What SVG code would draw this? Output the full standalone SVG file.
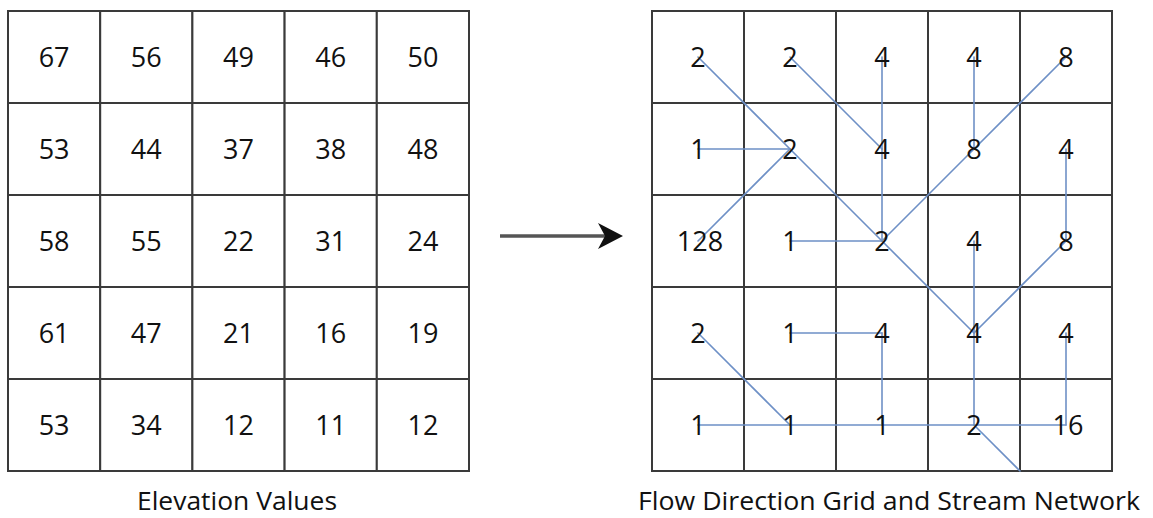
<svg xmlns="http://www.w3.org/2000/svg" width="1153" height="518" viewBox="0 0 1153 518">
<style>
.cell{fill:#fff;stroke:#3a3a3a;stroke-width:2}
.num{font-family:"Open Sans","Liberation Sans",sans-serif;font-size:27px;fill:#111;text-anchor:middle}
.lab{font-family:"Open Sans","Liberation Sans",sans-serif;font-size:26px;fill:#111}
.flow{stroke:#6e90c6;stroke-width:1.6;fill:none;stroke-linecap:round}
</style>
<rect width="1153" height="518" fill="#fff"/>
<g id="elevation-grid">
<g id="e00"><rect class="cell" x="8" y="11" width="92.2" height="92"/><text class="num" x="54.1" y="67">67</text></g>
<g id="e01"><rect class="cell" x="100.2" y="11" width="92.2" height="92"/><text class="num" x="146.3" y="67">56</text></g>
<g id="e02"><rect class="cell" x="192.4" y="11" width="92.2" height="92"/><text class="num" x="238.5" y="67">49</text></g>
<g id="e03"><rect class="cell" x="284.6" y="11" width="92.2" height="92"/><text class="num" x="330.7" y="67">46</text></g>
<g id="e04"><rect class="cell" x="376.8" y="11" width="92.2" height="92"/><text class="num" x="422.9" y="67">50</text></g>
<g id="e10"><rect class="cell" x="8" y="103" width="92.2" height="92"/><text class="num" x="54.1" y="159">53</text></g>
<g id="e11"><rect class="cell" x="100.2" y="103" width="92.2" height="92"/><text class="num" x="146.3" y="159">44</text></g>
<g id="e12"><rect class="cell" x="192.4" y="103" width="92.2" height="92"/><text class="num" x="238.5" y="159">37</text></g>
<g id="e13"><rect class="cell" x="284.6" y="103" width="92.2" height="92"/><text class="num" x="330.7" y="159">38</text></g>
<g id="e14"><rect class="cell" x="376.8" y="103" width="92.2" height="92"/><text class="num" x="422.9" y="159">48</text></g>
<g id="e20"><rect class="cell" x="8" y="195" width="92.2" height="92"/><text class="num" x="54.1" y="251">58</text></g>
<g id="e21"><rect class="cell" x="100.2" y="195" width="92.2" height="92"/><text class="num" x="146.3" y="251">55</text></g>
<g id="e22"><rect class="cell" x="192.4" y="195" width="92.2" height="92"/><text class="num" x="238.5" y="251">22</text></g>
<g id="e23"><rect class="cell" x="284.6" y="195" width="92.2" height="92"/><text class="num" x="330.7" y="251">31</text></g>
<g id="e24"><rect class="cell" x="376.8" y="195" width="92.2" height="92"/><text class="num" x="422.9" y="251">24</text></g>
<g id="e30"><rect class="cell" x="8" y="287" width="92.2" height="92"/><text class="num" x="54.1" y="343">61</text></g>
<g id="e31"><rect class="cell" x="100.2" y="287" width="92.2" height="92"/><text class="num" x="146.3" y="343">47</text></g>
<g id="e32"><rect class="cell" x="192.4" y="287" width="92.2" height="92"/><text class="num" x="238.5" y="343">21</text></g>
<g id="e33"><rect class="cell" x="284.6" y="287" width="92.2" height="92"/><text class="num" x="330.7" y="343">16</text></g>
<g id="e34"><rect class="cell" x="376.8" y="287" width="92.2" height="92"/><text class="num" x="422.9" y="343">19</text></g>
<g id="e40"><rect class="cell" x="8" y="379" width="92.2" height="92"/><text class="num" x="54.1" y="435">53</text></g>
<g id="e41"><rect class="cell" x="100.2" y="379" width="92.2" height="92"/><text class="num" x="146.3" y="435">34</text></g>
<g id="e42"><rect class="cell" x="192.4" y="379" width="92.2" height="92"/><text class="num" x="238.5" y="435">12</text></g>
<g id="e43"><rect class="cell" x="284.6" y="379" width="92.2" height="92"/><text class="num" x="330.7" y="435">11</text></g>
<g id="e44"><rect class="cell" x="376.8" y="379" width="92.2" height="92"/><text class="num" x="422.9" y="435">12</text></g>
</g>
<g id="flow-grid">
<g id="f00"><rect class="cell" x="652" y="11" width="92" height="92"/></g>
<g id="f01"><rect class="cell" x="744" y="11" width="92" height="92"/></g>
<g id="f02"><rect class="cell" x="836" y="11" width="92" height="92"/></g>
<g id="f03"><rect class="cell" x="928" y="11" width="92" height="92"/></g>
<g id="f04"><rect class="cell" x="1020" y="11" width="92" height="92"/></g>
<g id="f10"><rect class="cell" x="652" y="103" width="92" height="92"/></g>
<g id="f11"><rect class="cell" x="744" y="103" width="92" height="92"/></g>
<g id="f12"><rect class="cell" x="836" y="103" width="92" height="92"/></g>
<g id="f13"><rect class="cell" x="928" y="103" width="92" height="92"/></g>
<g id="f14"><rect class="cell" x="1020" y="103" width="92" height="92"/></g>
<g id="f20"><rect class="cell" x="652" y="195" width="92" height="92"/></g>
<g id="f21"><rect class="cell" x="744" y="195" width="92" height="92"/></g>
<g id="f22"><rect class="cell" x="836" y="195" width="92" height="92"/></g>
<g id="f23"><rect class="cell" x="928" y="195" width="92" height="92"/></g>
<g id="f24"><rect class="cell" x="1020" y="195" width="92" height="92"/></g>
<g id="f30"><rect class="cell" x="652" y="287" width="92" height="92"/></g>
<g id="f31"><rect class="cell" x="744" y="287" width="92" height="92"/></g>
<g id="f32"><rect class="cell" x="836" y="287" width="92" height="92"/></g>
<g id="f33"><rect class="cell" x="928" y="287" width="92" height="92"/></g>
<g id="f34"><rect class="cell" x="1020" y="287" width="92" height="92"/></g>
<g id="f40"><rect class="cell" x="652" y="379" width="92" height="92"/></g>
<g id="f41"><rect class="cell" x="744" y="379" width="92" height="92"/></g>
<g id="f42"><rect class="cell" x="836" y="379" width="92" height="92"/></g>
<g id="f43"><rect class="cell" x="928" y="379" width="92" height="92"/></g>
<g id="f44"><rect class="cell" x="1020" y="379" width="92" height="92"/></g>
</g>
<g id="connectors">
<line class="flow" x1="698" y1="57" x2="790" y2="149"/>
<line class="flow" x1="790" y1="57" x2="882" y2="149"/>
<line class="flow" x1="882" y1="57" x2="882" y2="149"/>
<line class="flow" x1="974" y1="57" x2="974" y2="149"/>
<line class="flow" x1="1066" y1="57" x2="974" y2="149"/>
<line class="flow" x1="698" y1="149" x2="790" y2="149"/>
<line class="flow" x1="790" y1="149" x2="882" y2="241"/>
<line class="flow" x1="882" y1="149" x2="882" y2="241"/>
<line class="flow" x1="974" y1="149" x2="882" y2="241"/>
<line class="flow" x1="1066" y1="149" x2="1066" y2="241"/>
<line class="flow" x1="698" y1="241" x2="790" y2="149"/>
<line class="flow" x1="790" y1="241" x2="882" y2="241"/>
<line class="flow" x1="882" y1="241" x2="974" y2="333"/>
<line class="flow" x1="974" y1="241" x2="974" y2="333"/>
<line class="flow" x1="1066" y1="241" x2="974" y2="333"/>
<line class="flow" x1="698" y1="333" x2="790" y2="425"/>
<line class="flow" x1="790" y1="333" x2="882" y2="333"/>
<line class="flow" x1="882" y1="333" x2="882" y2="425"/>
<line class="flow" x1="974" y1="333" x2="974" y2="425"/>
<line class="flow" x1="1066" y1="333" x2="1066" y2="425"/>
<line class="flow" x1="698" y1="425" x2="790" y2="425"/>
<line class="flow" x1="790" y1="425" x2="882" y2="425"/>
<line class="flow" x1="882" y1="425" x2="974" y2="425"/>
<line class="flow" x1="974" y1="425" x2="1020" y2="471"/>
<line class="flow" x1="1066" y1="425" x2="974" y2="425"/>
<line x1="500" y1="236" x2="606" y2="236" stroke="#555" stroke-width="3.5"/>
<polygon points="623,236 598,223 605,236 598,249" fill="#111"/>
</g>
<g id="flow-labels">
<text class="num" x="698" y="67">2</text>
<text class="num" x="790" y="67">2</text>
<text class="num" x="882" y="67">4</text>
<text class="num" x="974" y="67">4</text>
<text class="num" x="1066" y="67">8</text>
<text class="num" x="698" y="159">1</text>
<text class="num" x="790" y="159">2</text>
<text class="num" x="882" y="159">4</text>
<text class="num" x="974" y="159">8</text>
<text class="num" x="1066" y="159">4</text>
<text class="num" x="700" y="251">128</text>
<text class="num" x="790" y="251">1</text>
<text class="num" x="882" y="251">2</text>
<text class="num" x="974" y="251">4</text>
<text class="num" x="1066" y="251">8</text>
<text class="num" x="698" y="343">2</text>
<text class="num" x="790" y="343">1</text>
<text class="num" x="882" y="343">4</text>
<text class="num" x="974" y="343">4</text>
<text class="num" x="1066" y="343">4</text>
<text class="num" x="698" y="435">1</text>
<text class="num" x="790" y="435">1</text>
<text class="num" x="882" y="435">1</text>
<text class="num" x="974" y="435">2</text>
<text class="num" x="1068" y="435">16</text>
</g>
<g id="captions">
<text class="lab" x="137" y="510" textLength="200" lengthAdjust="spacingAndGlyphs">Elevation Values</text>
<text class="lab" x="638" y="510" textLength="502" lengthAdjust="spacingAndGlyphs">Flow Direction Grid and Stream Network</text>
</g>
</svg>
